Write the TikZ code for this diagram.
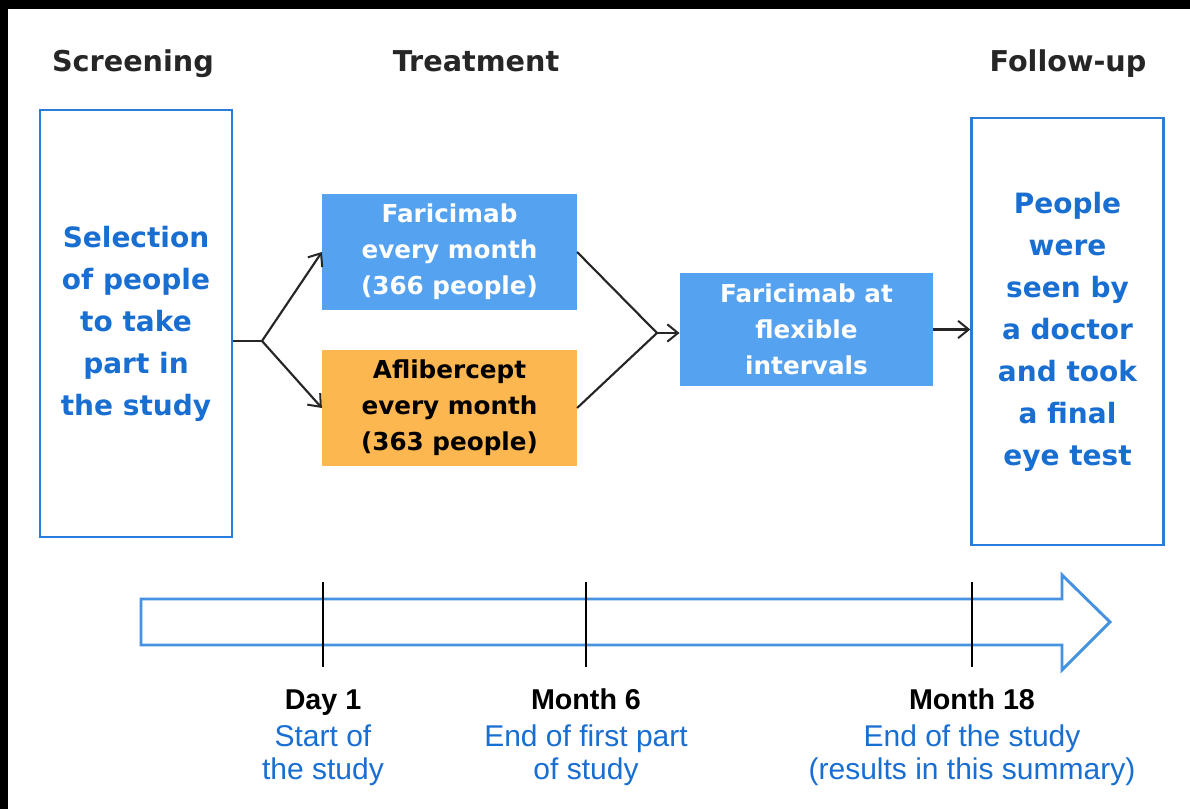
\documentclass[tikz,border=0pt]{standalone}
\usepackage{fontspec}
\setmainfont{DejaVu Sans}
\newfontfamily\labfont{Liberation Sans}
\usetikzlibrary{arrows.meta,calc}
\definecolor{bluetext}{RGB}{25,110,210}
\definecolor{boxborder}{RGB}{40,125,220}
\definecolor{fillblue}{RGB}{85,162,240}
\definecolor{fillorange}{RGB}{253,183,80}
\definecolor{tlblue}{RGB}{70,145,225}
\tikzset{
  heading/.style={font=\bfseries\fontsize{21.5pt}{26pt}\selectfont, text=black!85, anchor=base},
  bigbox/.style={draw=boxborder, line width=1.8pt, fill=white, minimum width=144pt, inner sep=0pt,
     align=center, text=bluetext, font=\bfseries\fontsize{21pt}{31.5pt}\selectfont},
  treatbox/.style={minimum width=191pt, minimum height=87pt, inner sep=0pt, align=center,
     font=\bfseries\fontsize{18.5pt}{27pt}\selectfont},
  conn/.style={draw=black!85, line width=1.6pt},
  arr/.style={conn, -{Straight Barb[length=8pt,width=13pt,line width=1.5pt]}},
  tick/.style={draw=black, line width=1.1pt},
  when/.style={font=\labfont\bfseries\fontsize{21.5pt}{25pt}\selectfont, text=black, anchor=base},
  what/.style={font=\labfont\fontsize{22.5pt}{25pt}\selectfont, text=bluetext, align=center},
}
\begin{document}
\begin{tikzpicture}[x=0.75pt,y=-0.75pt]
\useasboundingbox (0,0) rectangle (1190,809);
\fill[white] (0,0) rectangle (1190,809);
\fill[black] (0,0) rectangle (1190,9);
\fill[black] (0,0) rectangle (8,809);

% headings
\node[heading] (h1) at (133,72) {Screening};
\node[heading] (h2) at (476,72) {Treatment};
\node[heading] (h3) at (1068,72) {Follow-up};

% big boxes
\node[bigbox, minimum height=320pt] (sel) at (136,323.5) {Selection\\of people\\to take\\part in\\the study};
\node[bigbox, minimum height=320pt] (fin) at (1067.5,331.5) {People\\were\\seen by\\a doctor\\and took\\a final\\eye test};

% treatment boxes
\node[treatbox, fill=fillblue, text=white] (fa) at (449.5,252) {Faricimab\\every month\\(366 people)};
\node[treatbox, fill=fillorange, text=black] (af) at (449.5,408) {Aflibercept\\every month\\(363 people)};
\node[treatbox, fill=fillblue, text=white, minimum width=190pt, minimum height=85pt] (fl) at (806.5,329.5) {Faricimab at\\flexible\\intervals};

% connectors
\coordinate (fork) at (262,341);
\coordinate (merge) at (657,333);
\draw[conn] (sel.east |- fork) -- (fork);
\draw[arr] (fork) -- (fa.west);
\draw[arr] (fork) -- (af.west);
\draw[conn] (fa.east) -- (merge);
\draw[conn] (af.east) -- (merge);
\draw[arr] (merge) -- (fl.west |- merge);
\draw[arr] (fl.east) -- (fin.west |- fl.east);

% timeline
\draw[tlblue, line width=2.2pt, fill=white, line join=miter]
  (141,599) -- (1062,599) -- (1062,575) -- (1110,622) -- (1062,670) -- (1062,645) -- (141,645) -- cycle;
\coordinate (t1) at (323,582);
\coordinate (t2) at (586,582);
\coordinate (t3) at (972,582);
\draw[tick] (t1) -- ++(0,85);
\draw[tick] (t2) -- ++(0,85);
\draw[tick] (t3) -- ++(0,85);

% labels
\node[when] (w1) at (323,709) {Day 1};
\node[when] (w2) at (586,709) {Month 6};
\node[when] (w3) at (972,709) {Month 18};
\node[what] (d1) at (323,755) {Start of\\the study};
\node[what] (d2) at (586,755) {End of first part\\of study};
\node[what] (d3) at (972,755) {End of the study\\(results in this summary)};
\end{tikzpicture}
\end{document}
